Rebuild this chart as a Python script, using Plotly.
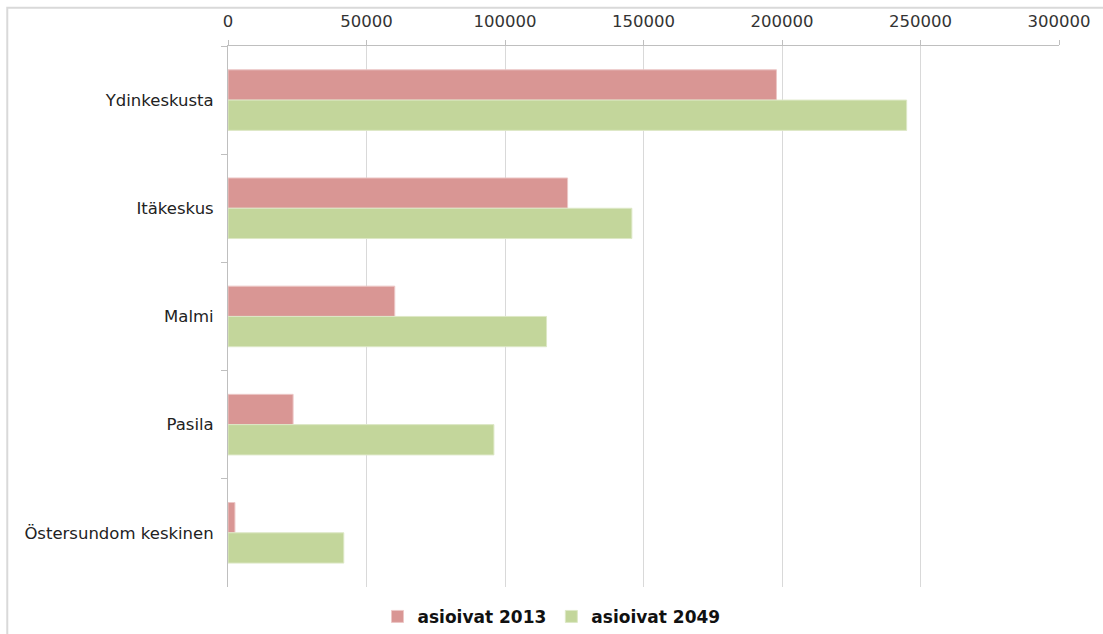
import plotly.graph_objects as go

categories = ["Ydinkeskusta", "Itäkeskus", "Malmi", "Pasila", "Östersundom keskinen"]
values_2013 = [198000, 122600, 60200, 23500, 2500]
values_2049 = [245000, 145800, 115000, 96000, 41800]
series_names = ["asioivat 2013", "asioivat 2049"]
x_ticks = [0, 50000, 100000, 150000, 200000, 250000, 300000]

W, H = 1103, 634
L, R, T, B = 228, 43, 44, 40
pw, ph = W - L - R, H - T - B

fig = go.Figure()
fig.add_trace(go.Bar(y=categories, x=values_2013, orientation="h", name=series_names[0],
                     marker=dict(color="#D99694", line=dict(color="#ECC7C6", width=1))))
fig.add_trace(go.Bar(y=categories, x=values_2049, orientation="h", name=series_names[1],
                     marker=dict(color="#C3D69B", line=dict(color="#DDE8C6", width=1))))

# outer chart border (light gray), extends past right/bottom edges like the reference
fig.add_shape(type="rect", xref="paper", yref="paper",
              x0=(7 - L) / pw, x1=(W + 10 - L) / pw,
              y0=-(B + 10) / ph, y1=1 + (T - 5) / ph,
              line=dict(color="#D9D9D9", width=2), layer="below")

fig.update_layout(
    width=W, height=H,
    margin=dict(l=L, r=R, t=T, b=B),
    paper_bgcolor="white", plot_bgcolor="white",
    barmode="group", bargap=0.44, bargroupgap=0,
    font=dict(family="DejaVu Sans", size=16.5, color="#333333"),
    showlegend=True,
    legend=dict(orientation="h", xref="container", yref="container",
                x=0.5, xanchor="center", y=0.027, yanchor="middle",
                font=dict(family="DejaVu Sans", size=17, color="#111111", weight="bold"),
                itemwidth=30, traceorder="normal"),
    xaxis=dict(side="top", range=[0, 300000], tickvals=x_ticks,
               ticktext=[str(v) for v in x_ticks],
               showgrid=True, gridcolor="#D9D9D9", gridwidth=1,
               showline=True, linecolor="#BFBFBF", linewidth=1,
               ticks="outside", ticklen=5, tickcolor="#BFBFBF",
               ticklabelstandoff=6,
               zeroline=False, tickfont=dict(size=16.5, color="#333333")),
    yaxis=dict(autorange="reversed", showgrid=False,
               showline=True, linecolor="#BFBFBF", linewidth=1,
               ticks="outside", ticklen=6, tickcolor="#BFBFBF", tickson="boundaries",
               ticklabelstandoff=10,
               tickfont=dict(size=16.5, color="#222222")),
)

fig.write_html("out.html")
